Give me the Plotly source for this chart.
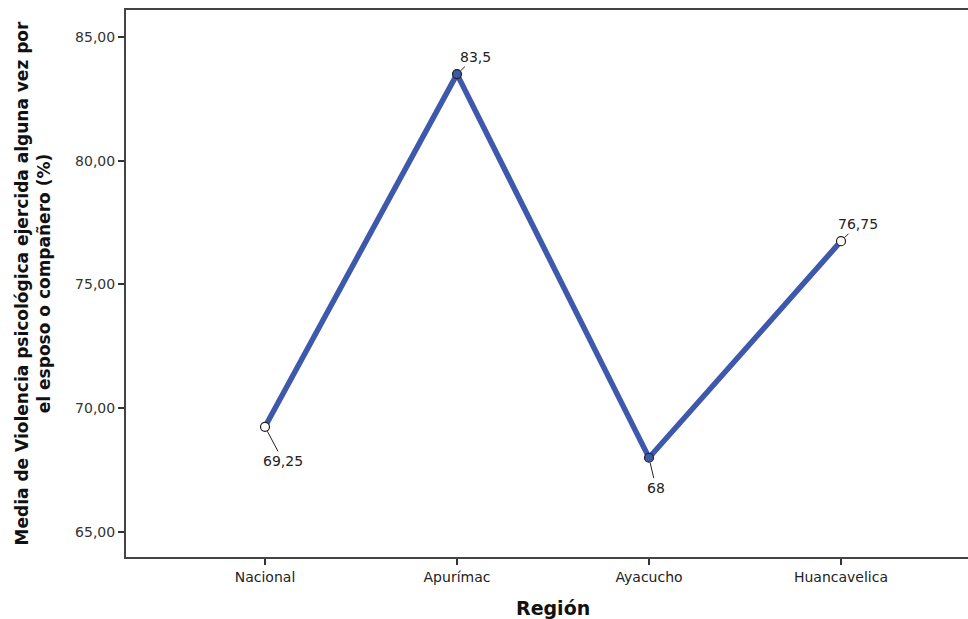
import plotly.graph_objects as go

regions = ["Nacional", "Apurímac", "Ayacucho", "Huancavelica"]
values = [69.25, 83.5, 68, 76.75]
y_ticks = [65, 70, 75, 80, 85]

def fmt(v):
    return ("%g" % v).replace(".", ",")

marker_fill = ["white", "#3E58AC", "#3E58AC", "white"]
label_offsets = [(18, 34), (18, -17), (7, 30), (17, -17)]

W, H = 968, 619
L, R, T, B = 126, 0, 10, 62

fig = go.Figure()
fig.add_trace(go.Scatter(
    x=list(range(len(regions))), y=values, mode="lines+markers",
    line=dict(color="#3E58AC", width=5.5),
    marker=dict(size=9, color=marker_fill, line=dict(color="#222", width=1.2)),
    hoverinfo="skip", showlegend=False,
))

for i, (v, (ax, ay)) in enumerate(zip(values, label_offsets)):
    fig.add_annotation(
        x=i, y=v, text=fmt(v), showarrow=True, ax=ax, ay=ay,
        arrowhead=0, arrowwidth=1, arrowcolor="#222", standoff=5,
        font=dict(family="DejaVu Sans", size=14, color="#222"),
    )

cat_px = 192.0
x0 = -(265 - L) / cat_px
x1 = x0 + (W - L - R) / cat_px

fig.add_annotation(
    x=(553 - L) / (W - L - R), xref="paper", y=-(608 - (H - B)) / (H - T - B), yref="paper",
    text="<b>Región</b>", showarrow=False, yanchor="middle",
    font=dict(family="DejaVu Sans", size=19, color="#111"),
)

fig.update_layout(
    width=W, height=H,
    margin=dict(l=L, r=R, t=T, b=B),
    paper_bgcolor="white", plot_bgcolor="white",
    separators=",.",
    xaxis=dict(
        range=[x0, x1], tickmode="array", tickvals=list(range(len(regions))), ticktext=regions,
        showgrid=False, zeroline=False, showline=True, mirror=True, linecolor="#444", linewidth=2,
        ticks="outside", ticklen=6, tickcolor="#333", tickwidth=1.5,
        tickfont=dict(family="DejaVu Sans", size=14, color="#222"),
    ),
    yaxis=dict(
        range=[63.99, 86.09], tickmode="array", tickvals=y_ticks, tickformat=".2f",
        showgrid=False, zeroline=False, showline=True, linecolor="#444", linewidth=2,
        ticks="outside", ticklen=6, tickcolor="#333", tickwidth=1.5,
        tickfont=dict(family="DejaVu Sans", size=14, color="#333"),
        title=dict(text="<b>Media de Violencia psicológica ejercida alguna vez por<br>el esposo o compañero (%)</b>",
                   font=dict(family="DejaVu Sans", size=17, color="#111"),
                   standoff=20),
    ),
)

fig.write_html("out.html", config={"displayModeBar": False},
               post_script="document.body.style.margin='0px';")
